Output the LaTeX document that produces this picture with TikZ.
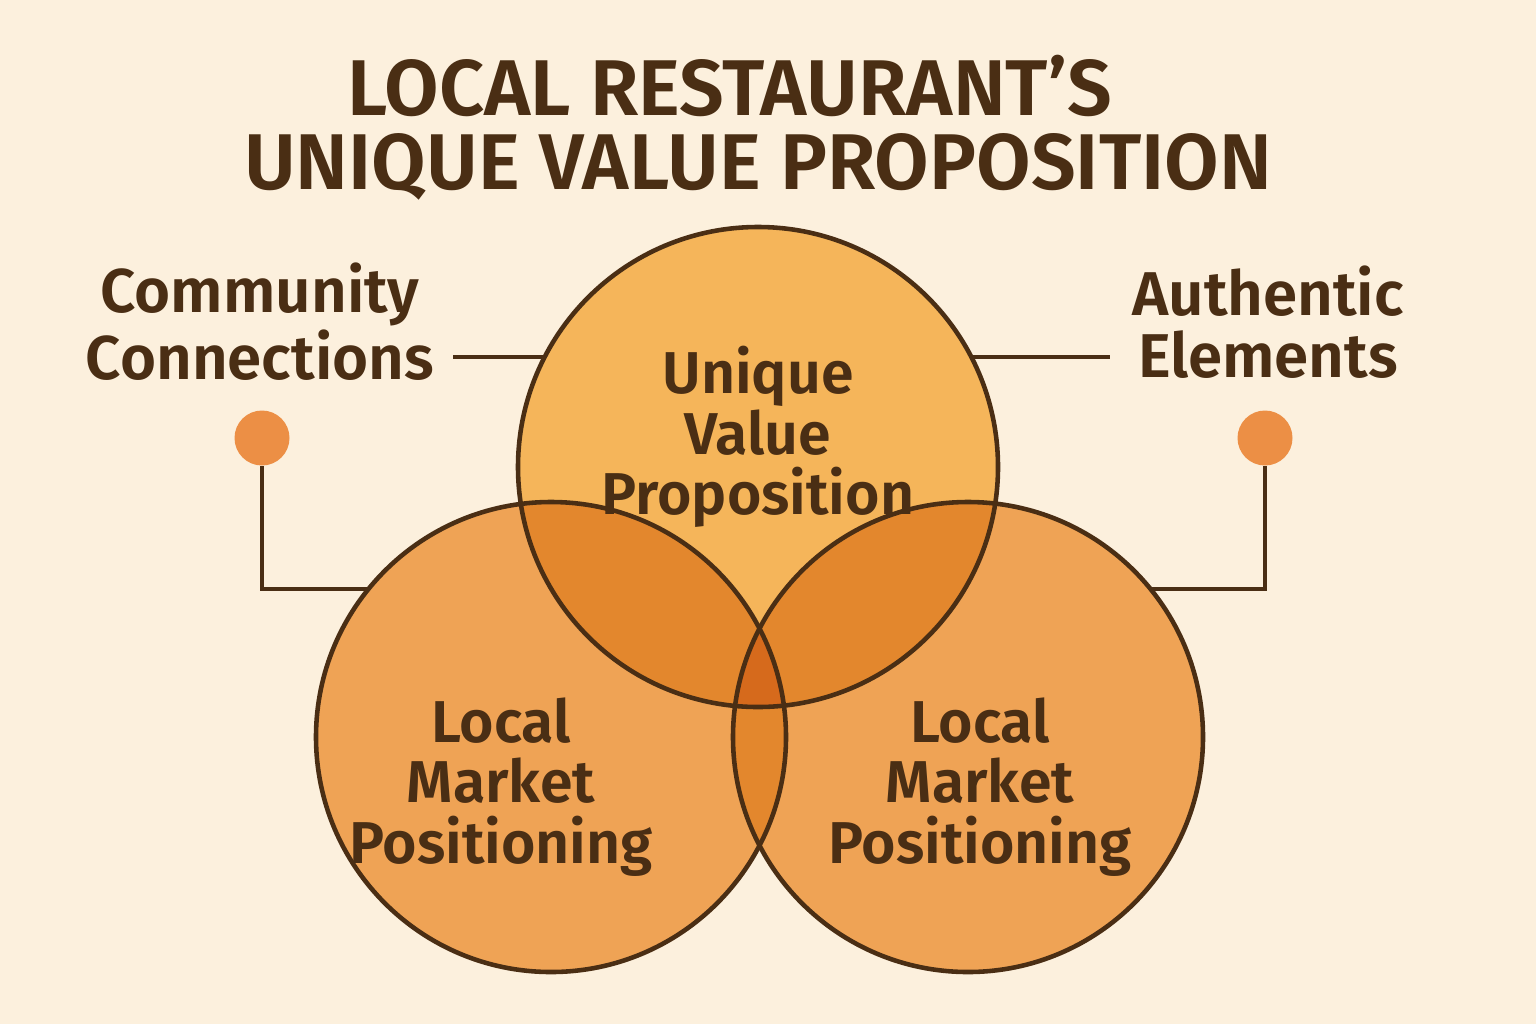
\documentclass[tikz,border=0pt]{standalone}
\usepackage{fontspec}
\setmainfont{Fira Sans}[BoldFont={Fira Sans SemiBold}]
\usepackage{tikz}
\usetikzlibrary{positioning}
\definecolor{bgcream}{HTML}{FCF0DD}
\definecolor{topfill}{HTML}{F5B55A}
\definecolor{sidefill}{HTML}{EFA355}
\definecolor{pairfill}{HTML}{E3872D}
\definecolor{triplefill}{HTML}{D66A1C}
\definecolor{inkbrown}{HTML}{4A2E14}
\definecolor{dotorange}{HTML}{EC8F45}
\begin{document}
\begin{tikzpicture}[
    ring/.style={circle, draw=inkbrown, line width=1.3pt, minimum size=#1, inner sep=0pt, outer sep=0pt},
    lead/.style={draw=inkbrown, line width=1.2pt},
    pin/.style={circle, fill=dotorange, minimum size=0.55cm, inner sep=0pt},
    label/.style={text=inkbrown, font=\fontsize{17.6}{17.6}\selectfont\bfseries, align=center},
    ringlabel/.style={text=inkbrown, font=\fontsize{16.8}{17.2}\selectfont\bfseries, align=center}
  ]
  \fill[bgcream] (0, 0) rectangle (15.36, -10.24);
  \useasboundingbox (0, 0) rectangle (15.36, -10.24);

  \node[text=inkbrown, font=\fontsize{22.5}{22}\selectfont\bfseries, inner sep=1pt] (title1) at (7.30, -0.86) {LOCAL RESTAURANT’S};
  \node[text=inkbrown, font=\fontsize{22.5}{22}\selectfont\bfseries, inner sep=1pt] (title2) at (7.58, -1.67) {UNIQUE VALUE PROPOSITION};

  \fill[topfill] (7.58, -4.67) circle (2.40);
  \fill[sidefill] (5.51, -7.37) circle (2.35);
  \fill[sidefill] (9.68, -7.37) circle (2.35);
  \begin{scope}
    \clip (5.51, -7.37) circle (2.35);
    \fill[pairfill] (7.58, -4.67) circle (2.40);
    \fill[pairfill] (9.68, -7.37) circle (2.35);
  \end{scope}
  \begin{scope}
    \clip (9.68, -7.37) circle (2.35);
    \fill[pairfill] (7.58, -4.67) circle (2.40);
  \end{scope}
  \begin{scope}
    \clip (5.51, -7.37) circle (2.35);
    \clip (9.68, -7.37) circle (2.35);
    \fill[triplefill] (7.58, -4.67) circle (2.40);
  \end{scope}

  \node[ring=4.80cm] (uvp) at (7.58, -4.67) {};
  \node[ring=4.70cm] (marketL) at (5.51, -7.37) {};
  \node[ring=4.70cm] (marketR) at (9.68, -7.37) {};

  \node[ringlabel] at (uvp.center) [yshift=0.30cm] {Unique\\Value\\Proposition};
  \node[ringlabel] at (5.01, -7.87) {Local\\Market\\Positioning};
  \node[ringlabel] at (9.80, -7.87) {Local\\Market\\Positioning};

  \node[label] (community) at (2.60, -3.22) {Community\\Connections};
  \node[label] (authentic) at (12.68, -3.22) {Authentic\\Elements};

  \coordinate (leadL) at (4.53, -3.57);
  \coordinate (leadR) at (11.10, -3.57);
  \draw[lead] (leadL) -- (uvp.152.5 |- leadL);
  \draw[lead] (uvp.27.5 |- leadR) -- (leadR);

  \node[pin] (pinL) at (2.62, -4.38) {};
  \node[pin] (pinR) at (12.65, -4.38) {};
  \draw[lead] (pinL.south) |- (marketL.141);
  \draw[lead] (pinR.south) |- (marketR.39);
\end{tikzpicture}
\end{document}
